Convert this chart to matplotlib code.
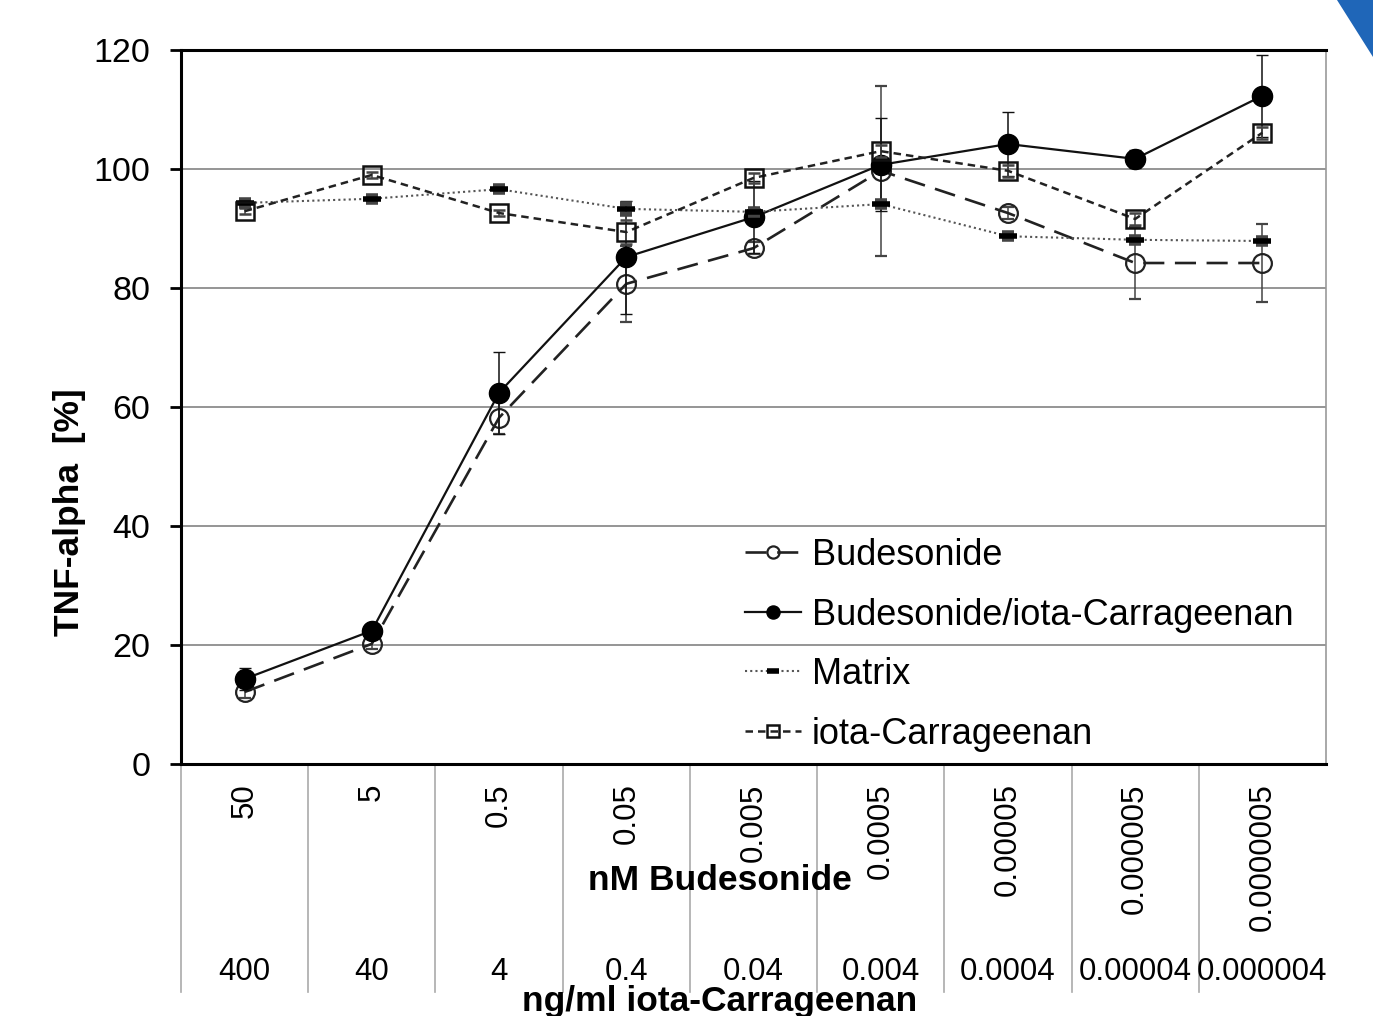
import numpy as np
import matplotlib.pyplot as plt
from matplotlib.patches import Polygon

plt.rcParams['font.family'] = ['Liberation Sans', 'DejaVu Sans']

# x categories (two label rows)
budesonide_nm = ["50", "5", "0.5", "0.05", "0.005", "0.0005",
                 "0.00005", "0.000005", "0.0000005"]
iota_ngml = ["400", "40", "4", "0.4", "0.04", "0.004",
             "0.0004", "0.00004", "0.000004"]

# TNF-alpha [%]
bud = [12.1, 20.2, 58.2, 80.7, 86.7, 99.7, 92.6, 84.2, 84.2]
bud_err = [1.0, 0.8, 2.8, 6.4, 1.0, 14.3, 1.0, 6.0, 6.5]
bud_iota = [14.3, 22.4, 62.4, 85.2, 91.9, 100.7, 104.2, 101.7, 112.3]
bud_iota_err = [1.9, 1.0, 6.9, 9.5, 6.0, 7.8, 5.3, 1.5, 6.9]
matrix = [94.3, 95.0, 96.6, 93.3, 92.8, 94.1, 88.7, 88.1, 87.9]
matrix_err = [0.5, 0.5, 0.5, 0.8, 0.5, 0.5, 0.5, 0.5, 0.5]
iota = [92.9, 99.0, 92.6, 89.4, 98.5, 103.0, 99.7, 91.6, 106.1]
iota_err = [0.5, 0.5, 0.5, 2.0, 0.8, 1.0, 1.0, 1.0, 1.0]

x = np.arange(len(budesonide_nm))

fig = plt.figure(figsize=(13.73, 10.16), dpi=100)
ax = fig.add_axes([181/1373, 1-764/1016, (1326-181)/1373, (764-50)/1016])

# grid
for yv in [20, 40, 60, 80, 100]:
    ax.axhline(yv, color='#8c8c8c', lw=1.3, zorder=0)

c1 = ax.errorbar(x, bud, yerr=bud_err, color='#222222', lw=1.9,
                 ls=(0, (8, 4)), marker='o', ms=13.5, mfc='none', mec='#222222',
                 mew=1.6, ecolor='#444444', elinewidth=1.1, capsize=4,
                 label='Budesonide', zorder=3)
c2 = ax.errorbar(x, bud_iota, yerr=bud_iota_err, color='#111111', lw=1.6,
                 ls='-', marker='o', ms=14.5, mfc='black', mec='black',
                 ecolor='#111111', elinewidth=1.1, capsize=4,
                 label='Budesonide/iota-Carrageenan', zorder=4)
c3 = ax.errorbar(x, matrix, yerr=matrix_err, color='#555555', lw=1.5,
                 ls=(0, (1, 1.5)), marker='_', ms=13, mec='black', mew=4,
                 ecolor='#444444', elinewidth=1.1, capsize=4,
                 label='Matrix', zorder=5)
c4 = ax.errorbar(x, iota, yerr=iota_err, color='#222222', lw=1.8,
                 ls=(0, (3, 2)), marker='s', ms=12.5, mfc='none', mec='#111111',
                 mew=1.8, ecolor='#444444', elinewidth=1.1, capsize=4,
                 label='iota-Carrageenan', zorder=6)

ax.set_xlim(-0.5, 8.5)
ax.set_ylim(0, 120)
ax.set_yticks([0, 20, 40, 60, 80, 100, 120])
ax.tick_params(axis='y', direction='out', length=8, width=2, pad=14,
               labelsize=24.5, colors='black')
ax.set_xticks(x)
ax.set_xticklabels(budesonide_nm, rotation=90, fontsize=22.5)
ax.tick_params(axis='x', length=0, pad=14)

for side in ['left', 'top', 'bottom']:
    ax.spines[side].set_linewidth(2.2)
    ax.spines[side].set_color('black')
ax.spines['right'].set_linewidth(1.2)
ax.spines['right'].set_color('#999999')

# category separators below the axis
trans = ax.get_xaxis_transform()
for b in np.arange(-0.5, 8.0, 1.0):
    ax.plot([b, b], [0, -0.319], color='#aaaaaa', lw=1.2, transform=trans,
            clip_on=False, zorder=1)

# second label row
for xi, lab in zip(x, iota_ngml):
    ax.text(xi, -0.2913, lab, transform=trans, ha='center', va='center',
            fontsize=22.5)

fig.text(720/1373, 1-880/1016, 'nM Budesonide', ha='center', va='center',
         fontsize=25.5, fontweight='bold')
fig.text(720/1373, 1-1001/1016, 'ng/ml iota-Carrageenan', ha='center',
         va='center', fontsize=25.5, fontweight='bold')
fig.text(70/1373, 1-512/1016, 'TNF-alpha  [%]', ha='center', va='center',
         rotation=90, fontsize=25.5, fontweight='bold')

leg = ax.legend(handles=[c1[0], c2[0], c3[0], c4[0]],
                labels=['Budesonide', 'Budesonide/iota-Carrageenan', 'Matrix',
                        'iota-Carrageenan'],
                loc='upper left', bbox_to_anchor=(745/1373, 1-538/1016),
                bbox_transform=fig.transFigure, frameon=False, fontsize=26,
                handlelength=1.55, handletextpad=0.3, labelspacing=0.68,
                borderpad=0, borderaxespad=0, markerscale=0.65, numpoints=1)

# blue corner from the slide
fig.patches.append(Polygon([(1337/1373, 1.0), (1.0, 1.0), (1.0, 1-57/1016)],
                           closed=True, transform=fig.transFigure,
                           facecolor='#1f66b8', edgecolor='none'))

fig.savefig('out.png', dpi=100)
